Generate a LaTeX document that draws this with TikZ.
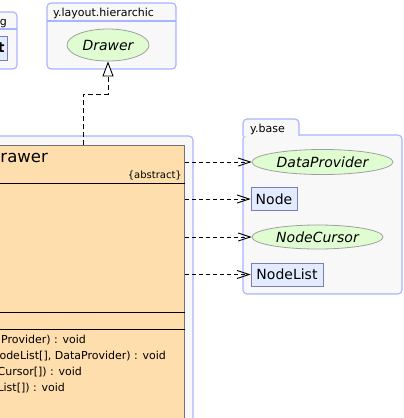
\documentclass[tikz,border=0pt]{standalone}
\usepackage{fontspec}
\setmainfont{DejaVu Sans}
\usetikzlibrary{positioning,shapes.geometric,arrows.meta}

\definecolor{pkgfill}{HTML}{F8F8F8}
\definecolor{pkgline}{HTML}{A8B4FF}
\definecolor{ifacefill}{HTML}{E0FDD2}
\definecolor{classfill}{HTML}{E2ECFE}
\definecolor{classline}{HTML}{7C7CB8}
\definecolor{umlfill}{HTML}{FFDEAD}

\begin{document}
\begin{tikzpicture}[x=1pt, y=-1pt,
    pkg/.style={draw=pkgline, fill=pkgfill, rounded corners=4pt, line width=1.1pt},
    pkglabel/.style={inner sep=0pt, font=\fontsize{11}{13}\selectfont},
    iface/.style={ellipse, draw=gray!75, fill=ifacefill, inner sep=0pt, line width=0.8pt,
                  font=\fontsize{14}{16}\selectfont\itshape},
    cls/.style={rectangle, draw=classline, fill=classfill, inner sep=0pt, line width=0.9pt,
                minimum height=23pt, font=\fontsize{14}{16}\selectfont},
    umlclass/.style={rectangle, draw=black!55, fill=umlfill, inner sep=0pt, line width=0.9pt},
    member/.style={inner sep=0pt, anchor=base east, font=\fontsize{11}{13}\selectfont},
    dep/.style={draw, line width=0.9pt, dash pattern=on 4pt off 3pt,
                -{Straight Barb[length=12pt, width=8pt]}},
    realize/.style={draw, line width=0.9pt, dash pattern=on 5pt off 3pt,
                -{Triangle[open, length=15pt, width=11pt, fill=white]}}
]
    \useasboundingbox (0,0) rectangle (404,418);
    \clip (0,0) rectangle (404,418);

    % package at the top left, mostly outside
    \draw[pkg] (-120,12) rectangle (17,69);
    \draw[pkgline, line width=1.1pt] (-120,29) -- (17,29);
    \node[pkglabel, anchor=base east] (pkgLeftLabel) at (7,25) {g};
    \node[cls, anchor=east, minimum width=40pt, minimum height=24pt, text width=34pt,
          inner xsep=3pt, align=right, font=\fontsize{14}{16}\selectfont\bfseries]
          (leftNode) at (8,48) {t};

    % y.layout.hierarchic
    \draw[pkg] (47,3) rectangle (176,69);
    \draw[pkgline, line width=1.1pt] (47,21) -- (176,21);
    \node[pkglabel, anchor=base west] (hierLabel) at (53,16) {y.layout.hierarchic};
    \node[iface, minimum width=82pt, minimum height=32pt] (drawer) at (108,45) {Drawer};

    % package holding the class
    \draw[pkg] (-200,136) rectangle (193,460);
    \node[umlclass, anchor=north east, minimum width=335pt, minimum height=300pt]
          (drawerClass) at (185,145) {};
    \node[inner sep=0pt, anchor=base east, font=\fontsize{16.5}{18}\selectfont]
          (classTitle) at (48,162) {rawer};
    \node[inner sep=0pt, anchor=base east, font=\fontsize{10}{12}\selectfont]
          (classStereo) at (182,178) {\{abstract\}};
    \draw[line width=0.9pt] (-150,183) -- (185,183);
    \draw[line width=0.9pt] (-150,312) -- (185,312);
    \draw[line width=0.9pt] (-150,329) -- (185,329);
    \node[member] (opA) at (86,343) {Provider) : void};
    \node[member] (opB) at (166,359) {odeList[], DataProvider) : void};
    \node[member] (opC) at (82,375) {Cursor[]) : void};
    \node[member] (opD) at (65,391) {List[]) : void};

    % y.base
    \draw[pkg] (243,135) rectangle (402,294);
    \draw[pkg] (243,136) -- (243,119) -- (299,119) -- (299,136);
    \node[pkglabel, anchor=base west] (baseLabel) at (250,132) {y.base};
    \node[iface, minimum width=141pt, minimum height=25pt] (dataProvider) at (322.5,162) {DataProvider};
    \node[cls, minimum width=46pt] (node) at (274,199) {Node};
    \node[iface, minimum width=131pt, minimum height=24pt] (nodeCursor) at (317.5,237) {NodeCursor};
    \node[cls, minimum width=72pt] (nodeList) at (287,274.5) {NodeList};

    % dependencies
    \draw[dep] (drawerClass.east |- dataProvider) -- (dataProvider);
    \draw[dep] (drawerClass.east |- node) -- (node);
    \draw[dep] (drawerClass.east |- nodeCursor) -- (nodeCursor);
    \draw[dep] (drawerClass.east |- nodeList) -- (nodeList);

    % implements
    \coordinate (bend) at (83,94);
    \draw[realize] (bend |- drawerClass.north) -- (bend) -| (drawer);
\end{tikzpicture}
\end{document}
